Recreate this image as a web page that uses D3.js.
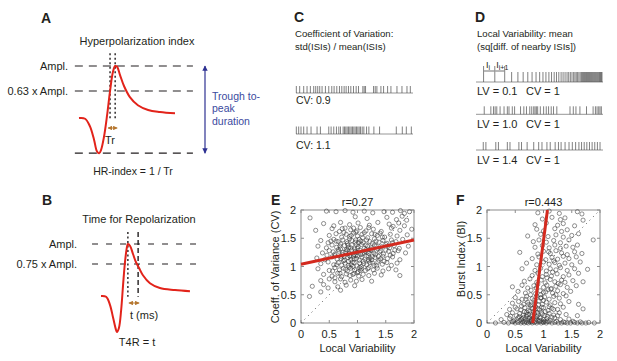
<!DOCTYPE html>
<html>
<head>
<meta charset="utf-8">
<title>Spike features</title>
<script src="https://d3js.org/d3.v7.min.js"></script>
<style>
body { margin: 0; background: #fff; }
svg text { font-family: "Liberation Sans", Arial, Helvetica, sans-serif; fill: #231f20; }
.lbl { font-weight: bold; font-size: 14px; }
</style>
</head>
<body>
<svg id="fig" width="617" height="361"></svg>
<script>
// ---------- data ----------
// waveforms: [time (ms), amplitude relative to Ampl.]
var waveA = [[0,0.23],[0.19,0.22],[0.34,0.11],[0.47,-0.09],[0.56,-0.26],[0.63,-0.29],[0.69,-0.24],[0.78,-0.05],
  [0.88,0.28],[0.97,0.63],[1.06,0.91],[1.13,1.0],[1.19,0.99],[1.28,0.87],[1.41,0.70],[1.59,0.54],[1.84,0.42],
  [2.16,0.35],[2.53,0.32],[3.0,0.30]];
var waveB = [[0,0.35],[0.16,0.34],[0.28,0.24],[0.38,0.075],[0.47,-0.075],[0.5,-0.1],[0.56,-0.05],[0.63,0.175],
  [0.69,0.49],[0.75,0.775],[0.81,0.96],[0.84,1.0],[0.91,0.975],[1.0,0.875],[1.09,0.775],[1.19,0.7],[1.31,0.61],
  [1.53,0.51],[1.84,0.45],[2.31,0.425],[2.78,0.41]];
var levelsA = [1, 0.63, -0.29];
var levelsB = [1, 0.75];
var markA = [0.97, 1.13];   // 0.63 crossing, peak
var markB = [0.84, 1.16];   // peak, 0.75 crossing

// spike trains (ms)
var cvTrain1 = [1,11,23,33,43,53,59,65,71,78,88,98,107,114,122,130,137,144,150,157,164,172,180,187,200,204,208,
  232,237,242,254,262,274,284,302,317,332,342];
var cvTrain2 = [1,8,15,23,33,45,63,73,98,105,113,121,128,133,141,145,149,153,157,161,165,169,173,177,181,185,189,
  193,198,203,211,218,233,250,300,318,330,345];
var cvLabels = ["CV: 0.9", "CV: 1.1"];

var lvTrain1 = [23,57,87,108,127,143,157,170,182,193,203,212,221,229,237,244,251,258,264,270,276,281,286,291,296,
  300,304,308,312,316,320,323,326,329,332,335,338,341,344,347,350,353,356,359,362,365,368,371,374,376,378,380,382];
var lvTrain2 = [25,45,53,58,63,73,85,95,100,110,117,135,145,153,163,169,175,179,183,187,195,205,213,220,228,235,
  245,285,295,303,315,335,355,362,367,372,376,380];
var lvTrain3 = [22,30,60,68,95,103,130,138,155,175,190,200,215,225,240,250,258,270,282,292,302,312,320,328,336,
  344,352,360,368,376];
var lvLabels = ["LV = 0.1", "LV = 1.0", "LV = 1.4"];
var lvCv = "CV = 1";

// scatter: [local variability, coefficient of variation]
var pointsE = [[0.45,1.98],[0.62,1.97],[0.78,1.99],[0.92,1.96],[1.12,1.98],[1.27,1.95],[1.47,1.97],[1.62,1.96],[1.76,1.99],[1.83,1.94],[1.92,1.97],
  [0.16,1.86],[0.96,1.88],[1.17,1.85],[1.52,1.87],[1.69,1.83],[1.79,1.89],[1.87,1.82],
  [0.4,1.76],[0.7,1.78],[0.86,1.74],[1.01,1.77],[1.21,1.73],[1.36,1.78],[1.56,1.75],[1.63,1.71],[1.73,1.77],[1.83,1.72],[0.58,1.72],
  [0.26,1.64],[0.55,1.67],[0.68,1.62],[0.78,1.68],[0.88,1.65],[0.97,1.61],[1.05,1.69],[1.15,1.63],[1.28,1.66],[1.42,1.62],[1.6,1.68],[1.75,1.64],[1.96,1.66],[0.93,1.68],[1.2,1.69],
  [0.5,1.55],[0.62,1.58],[0.72,1.52],[0.8,1.57],[0.86,1.53],[0.93,1.59],[1.0,1.54],[1.08,1.57],[1.18,1.51],[1.25,1.58],[1.35,1.55],[1.48,1.52],[1.58,1.57],[1.7,1.54],[1.88,1.56],[0.76,1.6],[1.12,1.6],[1.4,1.59],
  [0.35,1.46],[0.48,1.42],[0.58,1.48],[0.66,1.44],[0.74,1.47],[0.82,1.41],[0.9,1.46],[0.96,1.43],[1.03,1.48],[1.1,1.42],[1.16,1.47],[1.22,1.44],[1.3,1.49],[1.38,1.43],[1.45,1.46],[1.52,1.41],[1.6,1.47],[1.68,1.44],[1.8,1.48],[0.7,1.4],[0.86,1.49],[1.06,1.45],[1.26,1.41],
  [0.3,1.36],[0.45,1.33],[0.55,1.38],[0.63,1.34],[0.7,1.31],[0.77,1.37],[0.84,1.33],[0.9,1.38],[0.95,1.31],[1.01,1.35],[1.07,1.39],[1.12,1.32],[1.18,1.36],[1.24,1.33],[1.3,1.38],[1.36,1.31],[1.43,1.35],[1.5,1.39],[1.57,1.33],[1.65,1.37],[1.74,1.32],[1.9,1.36],[0.8,1.3],[0.98,1.39],[1.15,1.3],[1.33,1.36],
  [0.38,1.24],[0.5,1.28],[0.6,1.22],[0.67,1.27],[0.73,1.21],[0.79,1.26],[0.85,1.23],[0.9,1.29],[0.94,1.21],[0.99,1.25],[1.04,1.29],[1.09,1.22],[1.14,1.27],[1.2,1.23],[1.26,1.28],[1.32,1.21],[1.39,1.26],[1.46,1.22],[1.55,1.27],[1.63,1.23],[1.72,1.28],[1.85,1.24],[0.82,1.29],[0.97,1.2],[1.17,1.25],[1.29,1.24],[1.5,1.29],
  [0.28,1.15],[0.42,1.12],[0.55,1.17],[0.64,1.13],[0.71,1.18],[0.77,1.11],[0.83,1.16],[0.88,1.12],[0.93,1.18],[0.98,1.14],[1.03,1.11],[1.08,1.17],[1.13,1.13],[1.19,1.19],[1.25,1.12],[1.31,1.16],[1.38,1.11],[1.45,1.18],[1.53,1.14],[1.62,1.17],[1.75,1.12],[0.6,1.19],[0.86,1.19],[1.0,1.19],[1.22,1.15],[1.41,1.14],
  [0.35,1.05],[0.48,1.08],[0.58,1.03],[0.66,1.07],[0.72,1.02],[0.78,1.06],[0.84,1.09],[0.89,1.03],[0.94,1.07],[0.99,1.01],[1.04,1.06],[1.1,1.09],[1.16,1.03],[1.22,1.07],[1.29,1.02],[1.36,1.08],[1.44,1.04],[1.52,1.07],[1.6,1.02],[1.7,1.06],[0.75,1.1],[0.92,1.0],[1.07,1.0],[1.2,1.1],
  [0.3,0.96],[0.5,0.93],[0.6,0.98],[0.68,0.94],[0.75,0.97],[0.82,0.92],[0.88,0.97],[0.95,0.94],[1.01,0.91],[1.07,0.96],[1.14,0.93],[1.2,0.98],[1.28,0.94],[1.35,0.97],[1.45,0.92],[1.55,0.96],[1.68,0.94],[0.85,0.99],[1.04,0.98],
  [0.4,0.86],[0.55,0.83],[0.65,0.88],[0.72,0.82],[0.8,0.87],[0.87,0.84],[0.94,0.88],[1.02,0.83],[1.1,0.86],[1.2,0.84],[1.3,0.88],[1.42,0.85],[1.75,0.84],[0.6,0.8],[1.0,0.89],
  [0.35,0.75],[0.6,0.73],[0.7,0.78],[0.78,0.72],[0.88,0.76],[0.98,0.74],[1.08,0.77],[1.25,0.74],[0.5,0.78],
  [0.2,0.65],[0.4,0.68],[0.65,0.64],[0.8,0.67],[0.95,0.66],[0.48,0.62],
  [0.35,0.55],[0.7,0.58],[0.15,0.47],
  [0.62,1.45],[0.69,1.36],[0.74,1.25],[0.81,1.44],[0.87,1.18],[0.91,1.08],[0.96,1.27],[1.02,1.42],[1.06,1.21],[1.11,1.05],
  [1.15,1.38],[1.19,1.12],[1.23,1.3],[1.27,1.06],[1.33,1.45],[1.37,1.18],[1.41,1.28],[1.47,1.09],[1.54,1.36],[0.84,1.02],
  [0.79,0.95],[0.92,0.86],[1.05,0.93],[0.71,1.14],[0.66,1.3],[0.57,1.26],[0.89,1.55],[0.99,1.63],[1.09,1.51],[1.31,1.57],
  [0.73,1.67],[0.53,1.45],[0.46,1.2],[0.63,1.03],[1.12,1.24],[0.94,1.13],[1.0,1.32],[0.83,1.38],[1.26,1.17],[1.58,1.2],
  [1.66,1.29],[1.44,1.52],[0.97,1.47],[0.88,1.33],[0.76,1.18],[1.18,0.96],[1.34,1.01],[0.69,0.88],[0.56,0.92],[1.62,1.42]];

// scatter: [local variability, burst index]
var pointsF = [[0.15,0],[0.3,0.01],[0.38,0],[0.45,0.02],[0.5,0],[0.55,0.01],[0.6,0],[0.63,0.02],[0.66,0],[0.7,0.01],[0.73,0],[0.76,0.02],[0.8,0],[0.84,0.01],[0.88,0],[0.92,0.02],[0.96,0],[1.0,0.01],[1.05,0],[1.1,0.02],[1.15,0],[1.2,0.01],[1.26,0],[1.32,0],[1.38,0.01],[1.42,0],[1.48,0],[1.55,0.01],[1.6,0],[1.68,0],[1.75,0],[1.8,0.01],[1.9,0],[0.68,0.03],[0.78,0.04],[0.86,0.03],[0.94,0.04],[1.02,0.03],[0.58,0.04],
  [0.25,0.06],[0.4,0.08],[0.48,0.05],[0.55,0.09],[0.6,0.06],[0.65,0.1],[0.68,0.07],[0.72,0.05],[0.75,0.09],[0.78,0.06],[0.82,0.1],[0.86,0.07],[0.9,0.05],[0.95,0.09],[1.0,0.06],[1.06,0.08],[1.12,0.05],[1.2,0.09],[1.3,0.06],[1.45,0.07],[0.7,0.12],[0.88,0.11],
  [0.35,0.15],[0.45,0.18],[0.52,0.13],[0.58,0.17],[0.64,0.14],[0.7,0.19],[0.74,0.15],[0.79,0.12],[0.84,0.17],[0.9,0.14],[0.96,0.19],[1.02,0.13],[1.1,0.17],[1.18,0.14],[1.28,0.18],[1.4,0.15],[1.6,0.13],[0.82,0.2],[0.98,0.16],
  [0.4,0.24],[0.5,0.28],[0.6,0.23],[0.67,0.27],[0.73,0.22],[0.8,0.26],[0.86,0.29],[0.93,0.23],[1.0,0.27],[1.08,0.22],[1.15,0.26],[1.25,0.24],[1.35,0.28],[1.7,0.25],[0.9,0.25],[0.77,0.3],
  [0.45,0.35],[0.56,0.38],[0.65,0.33],[0.72,0.37],[0.78,0.32],[0.85,0.36],[0.92,0.39],[0.98,0.33],[1.05,0.37],[1.12,0.32],[1.2,0.36],[1.3,0.34],[1.45,0.38],[1.62,0.33],
  [0.5,0.45],[0.62,0.42],[0.7,0.47],[0.8,0.43],[0.88,0.48],[0.95,0.44],[1.02,0.46],[1.1,0.42],[1.18,0.47],[1.28,0.44],[1.4,0.48],
  [0.55,0.56],[0.68,0.53],[0.78,0.58],[0.86,0.52],[0.94,0.57],[1.0,0.54],[1.08,0.59],[1.16,0.53],[1.25,0.57],[1.35,0.52],[1.48,0.56],
  [0.45,0.64],[0.62,0.67],[0.72,0.62],[0.83,0.66],[0.9,0.69],[1.0,0.63],[1.06,0.67],[1.14,0.61],[1.22,0.65],[1.3,0.68],[1.42,0.63],[1.58,0.66],
  [0.66,0.74],[0.76,0.78],[0.88,0.72],[0.96,0.76],[1.03,0.71],[1.12,0.77],[1.2,0.73],[1.32,0.76],[1.38,0.72],[1.52,0.75],[1.7,0.73],
  [0.8,0.84],[0.9,0.88],[0.98,0.82],[1.05,0.86],[1.14,0.83],[1.24,0.87],[1.35,0.82],[1.45,0.85],[1.62,0.88],
  [0.62,0.96],[0.85,0.93],[0.95,0.97],[1.05,0.92],[1.12,0.96],[1.22,0.94],[1.3,0.98],[1.42,0.93],[1.55,0.96],[1.78,0.95],
  [0.7,1.06],[0.88,1.03],[1.0,1.08],[1.1,1.04],[1.2,1.07],[1.28,1.02],[1.38,1.06],[1.5,1.03],[1.65,1.08],
  [0.8,1.14],[0.92,1.17],[1.04,1.12],[1.15,1.16],[1.25,1.13],[1.35,1.18],[1.45,1.14],[1.58,1.17],
  [0.58,1.25],[0.9,1.22],[1.0,1.27],[1.12,1.23],[1.22,1.28],[1.32,1.24],[1.42,1.21],[1.55,1.26],[1.68,1.23],
  [0.85,1.34],[0.98,1.37],[1.1,1.33],[1.2,1.38],[1.3,1.32],[1.4,1.36],[1.52,1.34],[1.6,1.38],
  [0.82,1.44],[0.92,1.47],[1.05,1.43],[1.18,1.46],[1.3,1.42],[1.45,1.47],[1.88,1.47],
  [0.72,1.54],[0.95,1.57],[1.08,1.53],[1.22,1.56],[1.35,1.52],[1.5,1.55],[1.62,1.58],
  [0.88,1.66],[1.0,1.63],[1.2,1.67],[1.32,1.62],[1.42,1.65],
  [0.85,1.74],[1.05,1.77],[1.25,1.73],[1.35,1.76],[1.55,1.72],
  [0.98,1.84],[1.15,1.87],[1.3,1.83],[1.38,1.86],[1.7,1.82],
  [0.9,1.95],[1.1,1.98],[1.28,1.94],[1.6,1.97],[1.68,1.93],
  [0.62,0.08],[0.71,0.15],[0.76,0.21],[0.81,0.08],[0.85,0.24],[0.89,0.18],[0.93,0.1],[0.97,0.28],[1.03,0.2],[1.07,0.12],
  [0.66,0.2],[0.74,0.33],[0.83,0.4],[0.91,0.32],[1.0,0.4],[0.53,0.25],[0.61,0.3],[0.69,0.42],[0.77,0.5],[0.87,0.62],
  [0.95,0.5],[1.04,0.55],[1.13,0.6],[1.22,0.5],[1.15,0.1],[1.25,0.13],[0.42,0.12],[0.57,0.11],[0.79,0.02],[0.99,0.02],
  [1.07,0.03],[1.23,0.03],[1.35,0.02],[1.52,0.03],[1.65,0.02],[0.47,0.03],[1.1,0.29],[1.18,0.24],[0.96,0.45],[1.06,0.8],
  [1.16,0.9],[1.26,0.7],[1.09,1.26],[1.18,1.1]];

var fitE = [[0, 1.04], [2, 1.47]];
var fitF = [[0.81, 0], [1.07, 2]];
var rE = "r=0.27", rF = "r=0.443";
var tickVals = [0, 0.5, 1, 1.5, 2];

// ---------- drawing ----------
var svg = d3.select("#fig");
var defs = svg.append("defs");
var red = "#e2231a", blue = "#2e3192", brown = "#b5762f";

function marker(id, color) {
  defs.append("marker").attr("id", id)
    .attr("viewBox", "0 0 10 10").attr("refX", 9).attr("refY", 5)
    .attr("markerWidth", 4.5).attr("markerHeight", 4.5)
    .attr("orient", "auto-start-reverse")
    .append("path").attr("d", "M0,0L10,5L0,10z").attr("fill", color);
}
marker("ahBlue", blue);
marker("ahBrown", brown);

function txt(x, y, s, size, anchor) {
  return svg.append("text").attr("x", x).attr("y", y)
    .attr("font-size", size).attr("text-anchor", anchor || "start").text(s);
}

// ---- panel A ----
var ax = d3.scaleLinear().domain([0, 3]).range([79, 175]);
var ay = d3.scaleLinear().domain([0, 1]).range([133.6, 66]);
txt(41, 23, "A", 14).attr("class", "lbl");
txt(137, 44.5, "Hyperpolarization index", 11, "middle");

svg.selectAll(".levA").data(levelsA).enter().append("line")
  .attr("x1", ax(-0.13)).attr("x2", ax(3.56))
  .attr("y1", d => ay(d)).attr("y2", d => ay(d))
  .attr("stroke", "#231f20").attr("stroke-width", 1.2).attr("stroke-dasharray", "8,6");
txt(68, 70, "Ampl.", 11, "end");
txt(68, 95, "0.63 x Ampl.", 11, "end");

svg.selectAll(".mkA").data(markA).enter().append("line")
  .attr("x1", d => ax(d)).attr("x2", d => ax(d))
  .attr("y1", ay(1.19)).attr("y2", ay(0.19))
  .attr("stroke", "#231f20").attr("stroke-width", 1.4).attr("stroke-dasharray", "2,2.5");

svg.append("path").datum(waveA)
  .attr("d", d3.line().x(d => ax(d[0])).y(d => ay(d[1])).curve(d3.curveCatmullRom))
  .attr("fill", "none").attr("stroke", red).attr("stroke-width", 2);

svg.append("line").attr("x1", ax(markA[0]) - 2).attr("x2", ax(markA[1]) + 2)
  .attr("y1", 128).attr("y2", 128)
  .attr("stroke", brown).attr("stroke-width", 1)
  .attr("marker-start", "url(#ahBrown)").attr("marker-end", "url(#ahBrown)");
txt(110, 144, "Tr", 11, "middle");

svg.append("line").attr("x1", 205).attr("x2", 205)
  .attr("y1", ay(1)).attr("y2", ay(-0.29))
  .attr("stroke", blue).attr("stroke-width", 1.2)
  .attr("marker-start", "url(#ahBlue)").attr("marker-end", "url(#ahBlue)");
["Trough to-", "peak", "duration"].forEach(function (s, i) {
  txt(212, 99.5 + i * 12.8, s, 10.5).style("fill", "#3b4a9e");
});
txt(133, 175, "HR-index = 1 / Tr", 10.5, "middle");

// ---- panel B ----
var bx = d3.scaleLinear().domain([0, 3]).range([101, 197]);
var by = d3.scaleLinear().domain([0, 1]).range([324, 244]);
txt(42, 205, "B", 14).attr("class", "lbl");
txt(139, 222.5, "Time for Repolarization", 11, "middle");

svg.selectAll(".levB").data(levelsB).enter().append("line")
  .attr("x1", bx(-0.28)).attr("x2", bx(3.09))
  .attr("y1", d => by(d)).attr("y2", d => by(d))
  .attr("stroke", "#231f20").attr("stroke-width", 1.2).attr("stroke-dasharray", "6,8");
txt(77, 248, "Ampl.", 11, "end");
txt(77, 267.5, "0.75 x Ampl.", 11, "end");

svg.selectAll(".mkB").data(markB).enter().append("line")
  .attr("x1", d => bx(d)).attr("x2", d => bx(d))
  .attr("y1", by(1.15)).attr("y2", by(0.34))
  .attr("stroke", "#231f20").attr("stroke-width", 1.4)
  .attr("stroke-dasharray", (d, i) => i ? "5,3" : "2,2.5");

svg.append("path").datum(waveB)
  .attr("d", d3.line().x(d => bx(d[0])).y(d => by(d[1])).curve(d3.curveCatmullRom))
  .attr("fill", "none").attr("stroke", red).attr("stroke-width", 2);

svg.append("line").attr("x1", bx(markB[0]) + 1).attr("x2", bx(markB[1]) + 1)
  .attr("y1", 303).attr("y2", 303)
  .attr("stroke", brown).attr("stroke-width", 1)
  .attr("marker-start", "url(#ahBrown)").attr("marker-end", "url(#ahBrown)");
txt(144, 319, "t (ms)", 11, "middle");
txt(137, 346, "T4R = t", 11, "middle");

// ---- spike trains ----
function train(xs, spikes, y0, h, x0, x1) {
  svg.append("line").attr("x1", xs(x0)).attr("x2", xs(x1)).attr("y1", y0).attr("y2", y0)
    .attr("stroke", "#8a8a8a").attr("stroke-width", 0.9);
  svg.append("g").selectAll("line").data(spikes).enter().append("line")
    .attr("x1", d => xs(d)).attr("x2", d => xs(d))
    .attr("y1", y0).attr("y2", y0 - h)
    .attr("stroke", "#4a4a4a").attr("stroke-width", 0.7);
}

// panel C
var cx = d3.scaleLinear().domain([0, 350]).range([296, 413]);
txt(294, 22, "C", 14).attr("class", "lbl");
txt(295, 37, "Coefficient of Variation:", 9.6);
txt(295, 50, "std(ISIs) / mean(ISIs)", 9.6);
train(cx, cvTrain1, 93, 7, 0, 350);
train(cx, cvTrain2, 134, 7.5, 0, 350);
txt(296, 104, cvLabels[0], 10.5);
txt(296, 149, cvLabels[1], 10.5);

// panel D
var dx = d3.scaleLinear().domain([0, 385]).range([476, 603]);
txt(475, 22, "D", 14).attr("class", "lbl");
txt(477, 37, "Local Variability: mean", 9.6);
txt(477, 50, "(sq[diff. of nearby ISIs])", 9.6);
train(dx, lvTrain1, 82, 10, 0, 385);
train(dx, lvTrain2, 114.3, 8, 0, 385);
train(dx, lvTrain3, 150, 8, 0, 385);
// ISI annotation
var li = svg.append("text").attr("x", dx(lvTrain1[0]) + 2.5).attr("y", 68).attr("font-size", 9);
li.append("tspan").text("I");
li.append("tspan").attr("font-size", 7).attr("dy", 1.5).text("i");
var li2 = svg.append("text").attr("x", dx(lvTrain1[1]) + 1.5).attr("y", 68).attr("font-size", 9);
li2.append("tspan").text("I");
li2.append("tspan").attr("font-size", 7).attr("dy", 1.5).text("i+1");
[[0, 1], [1, 2]].forEach(function (p) {
  svg.append("line").attr("x1", dx(lvTrain1[p[0]]) + 0.5).attr("x2", dx(lvTrain1[p[1]]) - 0.5)
    .attr("y1", 71).attr("y2", 71).attr("stroke", "#333").attr("stroke-width", 0.7);
});
[0, 1, 2].forEach(function (i) {
  svg.append("line").attr("x1", dx(lvTrain1[i])).attr("x2", dx(lvTrain1[i]))
    .attr("y1", 66).attr("y2", 72).attr("stroke", "#4a4a4a").attr("stroke-width", 0.7);
});
var lvY = [95, 128.3, 164.3];
lvLabels.forEach(function (s, i) {
  txt(477, lvY[i], s, 11);
  txt(526, lvY[i], lvCv, 11);
});

// ---- scatter panels ----
function scatter(opt) {
  var x = d3.scaleLinear().domain([0, 2]).range([opt.left, opt.left + 113]);
  var y = d3.scaleLinear().domain([0, 2]).range([323, 210]);
  var g = svg.append("g");
  g.append("rect").attr("x", x(0)).attr("y", y(2)).attr("width", x(2) - x(0)).attr("height", y(0) - y(2))
    .attr("fill", "none").attr("stroke", "#8c8c8c").attr("stroke-width", 1);
  // inner ticks on all four sides
  tickVals.forEach(function (t) {
    g.append("line").attr("x1", x(t)).attr("x2", x(t)).attr("y1", y(0)).attr("y2", y(0) - 3).attr("stroke", "#8c8c8c");
    g.append("line").attr("x1", x(t)).attr("x2", x(t)).attr("y1", y(2)).attr("y2", y(2) + 3).attr("stroke", "#8c8c8c");
    g.append("line").attr("y1", y(t)).attr("y2", y(t)).attr("x1", x(0)).attr("x2", x(0) + 3).attr("stroke", "#8c8c8c");
    g.append("line").attr("y1", y(t)).attr("y2", y(t)).attr("x1", x(2)).attr("x2", x(2) - 3).attr("stroke", "#8c8c8c");
  });
  var fmt = d3.format("~g");
  g.selectAll(".xt").data(tickVals).enter().append("text")
    .attr("x", d => x(d)).attr("y", 337.5).attr("text-anchor", "middle").attr("font-size", 11).text(fmt);
  g.selectAll(".yt").data(tickVals).enter().append("text")
    .attr("x", x(0) - 5).attr("y", d => y(d) + 4).attr("text-anchor", "end").attr("font-size", 11).text(fmt);
  // identity line
  g.append("line").attr("x1", x(0)).attr("y1", y(0)).attr("x2", x(2)).attr("y2", y(2))
    .attr("stroke", "#555").attr("stroke-width", 1).attr("stroke-dasharray", "1,4");
  g.selectAll("circle").data(opt.points).enter().append("circle")
    .attr("cx", d => x(d[0])).attr("cy", d => y(d[1])).attr("r", 2.1)
    .attr("fill", "none").attr("stroke", "#333").attr("stroke-width", 0.6).attr("opacity", 0.9);
  g.append("line").attr("x1", x(opt.fit[0][0])).attr("y1", y(opt.fit[0][1]))
    .attr("x2", x(opt.fit[1][0])).attr("y2", y(opt.fit[1][1]))
    .attr("stroke", "#d32a1f").attr("stroke-width", 3);
  txt(opt.letterX, 205, opt.letter, 14).attr("class", "lbl");
  txt(x(1), 206, opt.r, 11, "middle");
  txt(x(1), 351.5, "Local Variability", 11, "middle");
  svg.append("text").attr("transform", "translate(" + opt.ylabX + "," + opt.ylabY + ") rotate(-90)")
    .attr("text-anchor", "middle").attr("font-size", 11).text(opt.ylab);
}

scatter({ left: 301, points: pointsE, fit: fitE, r: rE, letter: "E", letterX: 271,
  ylab: "Coeff. of Variance (CV)", ylabX: 279, ylabY: 267 });
scatter({ left: 487, points: pointsF, fit: fitF, r: rF, letter: "F", letterX: 456,
  ylab: "Burst Index (BI)", ylabX: 465, ylabY: 259 });
</script>
</body>
</html>
